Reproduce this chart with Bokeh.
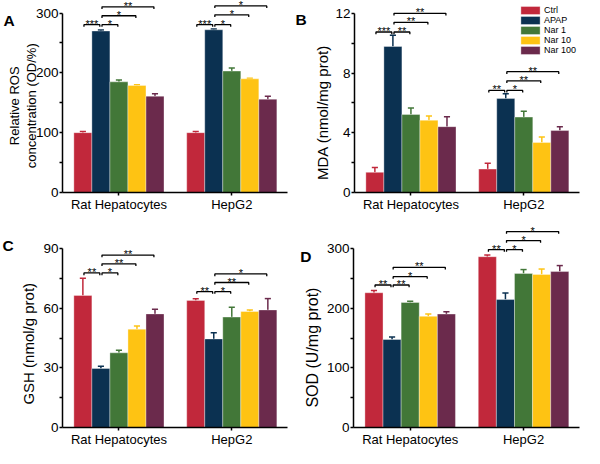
import math
from bokeh.plotting import figure
from bokeh.models import Range1d, FixedTicker, Legend, LegendItem, Label
from bokeh.layouts import gridplot
from bokeh.embed import file_html
from bokeh.resources import INLINE
from bokeh.core.properties import value

# ---------------- data ----------------
groups = ["Rat Hepatocytes", "HepG2"]
treatments = ["Ctrl", "APAP", "Nar 1", "Nar 10", "Nar 100"]
colors = ["#c1283b", "#0b3151", "#427738", "#fec313", "#6b2a4c"]

ros_rat = [100, 270, 185, 179, 161]
ros_rat_err = [2, 1.5, 3, 1, 4]
ros_hepg2 = [100, 272, 203, 190, 156]
ros_hepg2_err = [2, 1.5, 5, 1, 5]

mda_rat = [1.35, 9.78, 5.23, 4.84, 4.41]
mda_rat_err = [0.33, 0.75, 0.43, 0.28, 0.67]
mda_hepg2 = [1.57, 6.30, 5.05, 3.35, 4.15]
mda_hepg2_err = [0.39, 0.32, 0.39, 0.37, 0.26]

gsh_rat = [66.5, 29.7, 37.6, 49.5, 57.2]
gsh_rat_err = [8.6, 1.1, 1.3, 1.6, 2.3]
gsh_hepg2 = [64.0, 44.6, 55.6, 58.4, 59.2]
gsh_hepg2_err = [0.8, 3.1, 4.9, 0.8, 5.7]

sod_rat = [226, 147.6, 209.7, 186.5, 190.3]
sod_rat_err = [4, 4, 2, 4, 4]
sod_hepg2 = [286.5, 214.6, 258.4, 256.8, 261.6]
sod_hepg2_err = [3, 11, 6.5, 9, 10]

# significance brackets: (group index, from bar, to bar, height, label)
ros_sig = [(0, 0, 1, 280.6, "***"), (0, 1, 2, 280.6, "*"), (0, 1, 3, 295.5, "*"), (0, 1, 4, 310.5, "**"),
           (1, 0, 1, 280.6, "***"), (1, 1, 2, 280.6, "*"), (1, 1, 3, 297, "*"), (1, 1, 4, 312, "*")]
mda_sig = [(0, 0, 1, 10.75, "***"), (0, 1, 2, 10.75, "**"), (0, 1, 3, 11.4, "**"), (0, 1, 4, 12.0, "**"),
           (1, 0, 1, 6.84, "**"), (1, 1, 2, 6.84, "*"), (1, 1, 3, 7.48, "**"), (1, 1, 4, 8.09, "**")]
gsh_sig = [(0, 0, 1, 77.8, "**"), (0, 1, 2, 77.8, "*"), (0, 1, 3, 82.4, "**"), (0, 1, 4, 86.8, "**"),
           (1, 0, 1, 68.4, "**"), (1, 1, 2, 68.4, "*"), (1, 1, 3, 73.0, "**"), (1, 1, 4, 77.3, "*")]
sod_sig = [(0, 0, 1, 239, "**"), (0, 1, 2, 239, "**"), (0, 1, 3, 253, "*"), (0, 1, 4, 268.6, "**"),
           (1, 0, 1, 298.4, "**"), (1, 1, 2, 298.4, "*"), (1, 1, 3, 313.5, "*"), (1, 1, 4, 328.6, "*")]

# ---------------- layout constants ----------------
FONT = "Liberation Sans"
W, H = 292, 224
SX, SY = 292 / 300, 224 / 232
GROUP_OFFSET = [0.0, 6.26]
X_START, X_END = -0.63, 11.85   # extent of the x axis line (data units)
AXIS_RIGHT_PX = 287
GAP = 0.06
CAP = 0.17


def make_panel(letter, rat, rat_err, hep, hep_err, sig, y_end, y_ticks, y_minor,
               ylabel, ylabel_size, ylabel_pos, letter_pos, axis_px, base_ref,
               legend=False):
    # the frame covers the whole canvas; axes are pinned with fixed_location
    ppu_x = (AXIS_RIGHT_PX - axis_px) / (X_END - X_START)
    x_lo = X_START - axis_px / ppu_x
    x_hi = X_END + (W - AXIS_RIGHT_PX) / ppu_x
    base_px = round(base_ref * SY)
    ppu_y = base_px / y_end
    y_lo = -(H - base_px) / ppu_y

    p = figure(width=W, height=H, output_backend="svg", toolbar_location=None,
               x_range=Range1d(x_lo, x_hi), y_range=Range1d(y_lo, y_end),
               min_border=0)
    p.outline_line_color = None
    p.grid.visible = False
    p.background_fill_color = "white"
    p.border_fill_color = "white"

    yax = p.yaxis[0]
    yax.fixed_location = X_START
    yax.ticker = FixedTicker(ticks=y_ticks, minor_ticks=y_minor)
    yax.bounds = (0, y_ticks[-1])
    yax.axis_line_width = 1.5
    yax.major_tick_line_width = 1.5
    yax.minor_tick_line_width = 1.5
    yax.major_tick_out = 3
    yax.major_tick_in = 0
    yax.minor_tick_out = 3
    yax.minor_tick_in = 0
    yax.major_label_standoff = 1
    yax.major_label_text_font = FONT
    yax.major_label_text_font_size = "13.5px"
    yax.major_label_text_color = "black"

    centers = [GROUP_OFFSET[g] + 2.5 for g in range(2)]
    xax = p.xaxis[0]
    xax.fixed_location = 0
    xax.bounds = (X_START, X_END)
    xax.ticker = FixedTicker(ticks=centers, minor_ticks=[])
    xax.major_label_overrides = {c: name for c, name in zip(centers, groups)}
    xax.axis_line_width = 1.5
    xax.major_tick_line_width = 1.5
    xax.major_tick_out = 3
    xax.major_tick_in = 0
    xax.minor_tick_out = 0
    xax.minor_tick_in = 0
    xax.major_label_standoff = 1
    xax.major_label_text_font = FONT
    xax.major_label_text_font_size = "13px"
    xax.major_label_text_color = "black"

    # bars and error bars
    items = []
    for k, t in enumerate(treatments):
        xs = [GROUP_OFFSET[g] + k + 0.5 for g in range(2)]
        tops = [rat[k], hep[k]]
        errs = [rat_err[k], hep_err[k]]
        ups = [tp + e for tp, e in zip(tops, errs)]
        p.segment(x0=xs, y0=tops, x1=xs, y1=ups, line_color=colors[k], line_width=1.5)
        p.segment(x0=[x - CAP for x in xs], y0=ups, x1=[x + CAP for x in xs], y1=ups,
                  line_color=colors[k], line_width=1.5)
        r = p.vbar(x=xs, top=tops, bottom=0, width=1, fill_color=colors[k],
                   line_color="white", line_alpha=0.35, line_width=1)
        items.append(LegendItem(label=t, renderers=[r]))

    # significance brackets
    depth = 2.2 / ppu_y
    bx, by, sxs, sys_, stx = [], [], [], [], []
    for g, i, j, y, lab in sig:
        x0 = GROUP_OFFSET[g] + i + 0.5 + GAP
        x1 = GROUP_OFFSET[g] + j + 0.5 - GAP
        bx.append([x0, x0, x1, x1])
        by.append([y - depth, y, y, y - depth])
        sxs.append((x0 + x1) / 2)
        sys_.append(y)
        stx.append(lab)
    p.multi_line(xs=bx, ys=by, line_color="black", line_width=1.3)
    p.text(x=sxs, y=sys_, text=stx, text_align="center", text_baseline="alphabetic",
           y_offset=-1, text_font=value(FONT), text_font_size="11px", text_color="black")

    # y label and panel letter (frame == canvas, so screen units are canvas pixels)
    p.add_layout(Label(x=ylabel_pos[0] * SX, y=H - ylabel_pos[1] * SY,
                       x_units="screen", y_units="screen", text=ylabel,
                       angle=math.pi / 2, text_align="center", text_baseline="middle",
                       text_font=FONT, text_font_size=ylabel_size, text_color="black",
                       text_line_height=1.15))
    p.add_layout(Label(x=letter_pos[0] * SX, y=H - letter_pos[1] * SY,
                       x_units="screen", y_units="screen", text=letter,
                       text_align="left", text_baseline="alphabetic", text_font=FONT,
                       text_font_size="15.5px", text_font_style="bold", text_color="black"))

    if legend:
        lg = Legend(items=items, location=(226, H - 2.9 - 52), orientation="vertical",
                    glyph_width=24, glyph_height=10, label_height=10, label_width=10,
                    spacing=0, padding=0, margin=0, label_standoff=2,
                    border_line_color=None, background_fill_alpha=0,
                    label_text_font=FONT, label_text_font_size="9px",
                    label_text_color="black")
        p.add_layout(lg)
    return p


pA = make_panel("A", ros_rat, ros_rat_err, ros_hepg2, ros_hepg2_err, ros_sig,
                321, [0, 100, 200, 300], [50, 150, 250],
                "Relative ROS\nconcentration (OD/%)", "13px", (23, 109), (3, 21), 62, 199)
pB = make_panel("B", mda_rat, mda_rat_err, mda_hepg2, mda_hepg2_err, mda_sig,
                12.86, [0, 4, 8, 12], [2, 6, 10],
                "MDA (nmol/mg prot)", "15px", (31, 116), (3, 20), 62, 199, legend=True)
pC = make_panel("C", gsh_rat, gsh_rat_err, gsh_hepg2, gsh_hepg2_err, gsh_sig,
                102.2, [0, 30, 60, 90], [15, 45, 75],
                "GSH (nmol/g prot)", "15px", (29, 123.5), (2, 22), 62, 210)
pD = make_panel("D", sod_rat, sod_rat_err, sod_hepg2, sod_hepg2_err, sod_sig,
                340.5, [0, 100, 200, 300], [50, 150, 250],
                "SOD (U/mg prot)", "16px", (21, 127.5), (8, 33), 61, 210)

grid = gridplot([[pA, pB], [pC, pD]], toolbar_location=None)
open("out.html", "w").write(file_html(grid, INLINE))
